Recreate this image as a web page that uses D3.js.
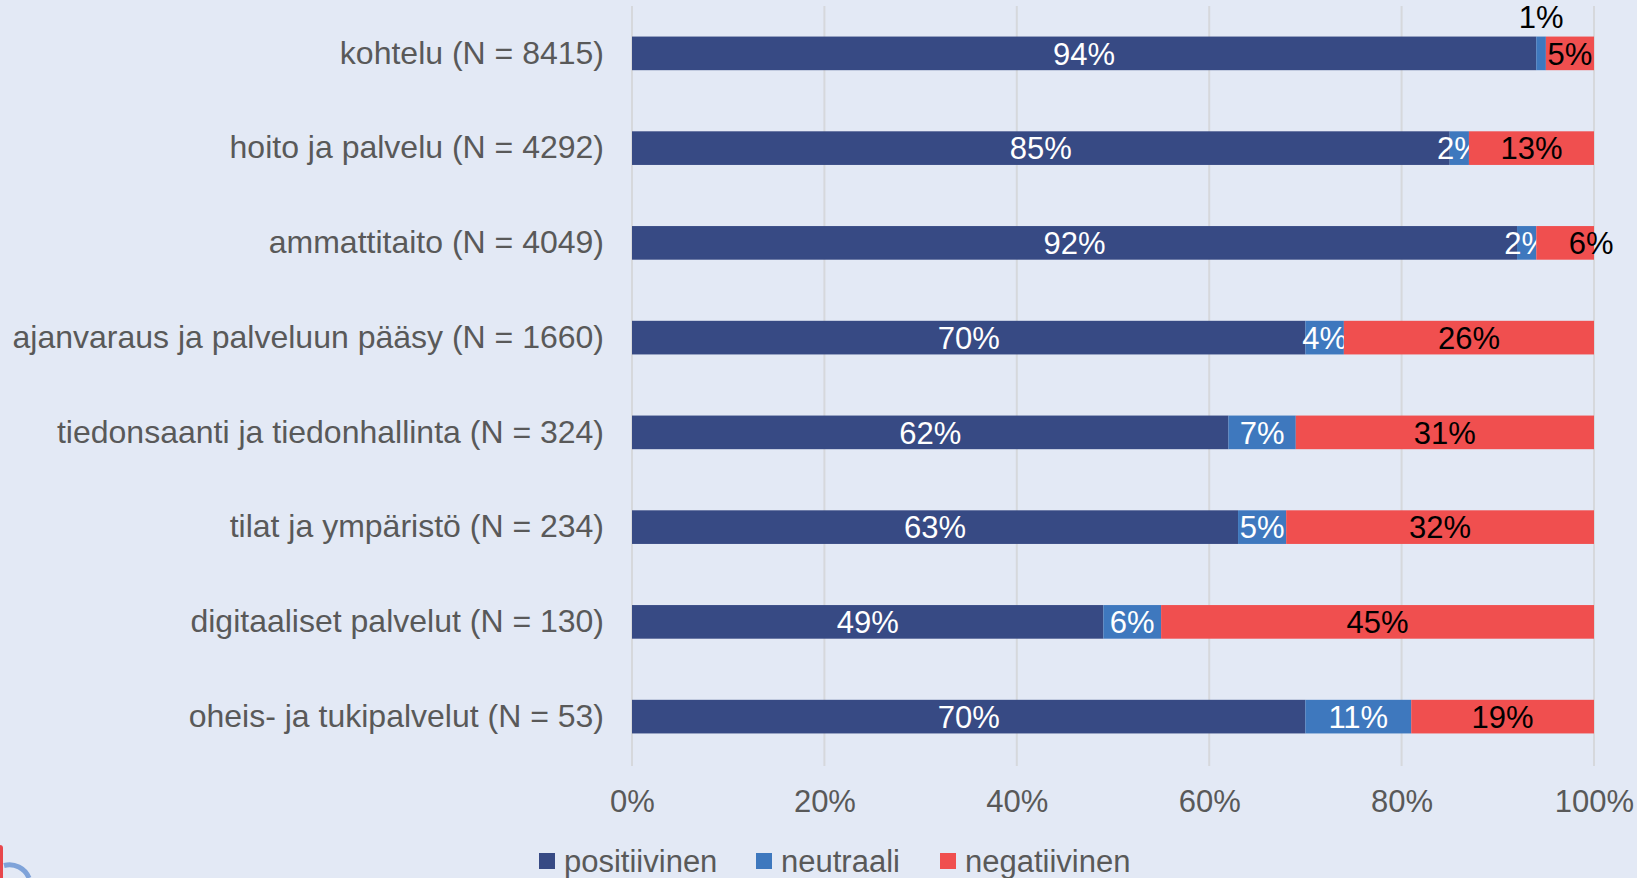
<!DOCTYPE html>
<html>
<head>
<meta charset="utf-8">
<script src="https://cdn.jsdelivr.net/npm/d3@7"></script>
<style>
  body { margin: 0; background: #e3e9f5; }
  text { font-family: "Liberation Sans", Arial, sans-serif; }
</style>
</head>
<body>
<script>
//chart values
var categories = [
    "kohtelu (N = 8415)",
    "hoito ja palvelu (N = 4292)",
    "ammattitaito (N = 4049)",
    "ajanvaraus ja palveluun pääsy (N = 1660)",
    "tiedonsaanti ja tiedonhallinta (N = 324)",
    "tilat ja ympäristö (N = 234)",
    "digitaaliset palvelut (N = 130)",
    "oheis- ja tukipalvelut (N = 53)"
];
var positive = [94, 85, 92, 70, 62, 63, 49, 70];
var neutral = [1, 2, 2, 4, 7, 5, 6, 11];
var negative = [5, 13, 6, 26, 31, 32, 45, 19];
var seriesKeys = ["positiivinen", "neutraali", "negatiivinen"];
var xTicks = [0, 20, 40, 60, 80, 100];

//SVG dimension variables
var w = 1637, h = 878;

//colors per series, label colors per series
var colors = { positiivinen: "#374a84", neutraali: "#3e78be", negatiivinen: "#f04f4f" };
var labelColors = { positiivinen: "#ffffff", neutraali: "#ffffff", negatiivinen: "#000000" };

//build table rows for the stack generator
var table = categories.map(function(c, i){
    return { cat: c, positiivinen: positive[i], neutraali: neutral[i], negatiivinen: negative[i] };
});

var container = d3.select("body")
    .append("svg")
    .attr("width", w)
    .attr("height", h);

container.append("rect")
    .attr("width", w)
    .attr("height", h)
    .style("fill", "#e3e9f5");

//scales
var x = d3.scaleLinear()
    .range([632, 1594])
    .domain([0, 100]);

var y = d3.scaleBand()
    .range([6, 764])
    .domain(categories)
    .paddingInner(0.645)
    .paddingOuter(0.3225);

//vertical gridlines
container.selectAll(".grid")
    .data(xTicks)
    .enter()
    .append("line")
    .attr("class", "grid")
    .attr("x1", function(d){ return x(d); })
    .attr("x2", function(d){ return x(d); })
    .attr("y1", 6)
    .attr("y2", 766)
    .style("stroke", "#d6d8dc")
    .style("stroke-width", 2);

//stacked series
var stack = d3.stack().keys(seriesKeys);
var series = stack(table);

var groups = container.selectAll(".series")
    .data(series)
    .enter()
    .append("g")
    .attr("class", "series")
    .style("fill", function(d){ return colors[d.key]; });

groups.selectAll("rect")
    .data(function(d){ return d; })
    .enter()
    .append("rect")
    .attr("x", function(d){ return x(d[0]); })
    .attr("y", function(d){ return y(d.data.cat); })
    .attr("width", function(d){ return x(d[1]) - x(d[0]); })
    .attr("height", y.bandwidth());

//data labels, centered in each segment
groups.each(function(s){
    d3.select(this).selectAll(".val")
        .data(s)
        .enter()
        .append("text")
        .attr("class", "val")
        .attr("text-anchor", "middle")
        .attr("x", function(d){
            var cx = (x(d[0]) + x(d[1])) / 2;
            //the 6% label of ammattitaito sits pushed to the right edge
            if (s.key == "negatiivinen" && d.data.cat.indexOf("ammattitaito") == 0) cx += 26;
            return cx;
        })
        .attr("y", function(d){
            var cy = y(d.data.cat) + y.bandwidth() / 2;
            //tiny neutral value of kohtelu is shown above the bar
            if (s.key == "neutraali" && d.data.cat.indexOf("kohtelu") == 0) cy = y(d.data.cat) - 20;
            return cy;
        })
        .attr("dy", "0.36em")
        .style("font-size", "31px")
        .style("fill", function(d){
            if (s.key == "neutraali" && d.data.cat.indexOf("kohtelu") == 0) return "#000";
            return labelColors[s.key];
        })
        .text(function(d){ return (d[1] - d[0]) + "%"; });
});

//category axis
var yAxis = d3.axisLeft(y).tickSize(0).tickPadding(28);
var yAx = container.append("g")
    .attr("transform", "translate(632, 0)")
    .call(yAxis);
yAx.select(".domain").remove();
yAx.selectAll("text")
    .style("font-size", "32px")
    .style("fill", "#595959")
    .style("font-family", "'Liberation Sans', Arial, sans-serif");

//percent axis
var xAxis = d3.axisBottom(x)
    .tickValues(xTicks)
    .tickSize(0)
    .tickPadding(24)
    .tickFormat(function(d){ return d + "%"; });
var xAx = container.append("g")
    .attr("transform", "translate(0, 766)")
    .call(xAxis);
xAx.select(".domain").remove();
xAx.selectAll("text")
    .style("font-size", "31px")
    .style("fill", "#595959")
    .style("font-family", "'Liberation Sans', Arial, sans-serif");

//legend
var legendX = [539, 756, 940];
var legend = container.selectAll(".legend")
    .data(seriesKeys)
    .enter()
    .append("g")
    .attr("class", "legend")
    .attr("transform", function(d, i){ return "translate(" + legendX[i] + ", 861)"; });

legend.append("rect")
    .attr("x", 0)
    .attr("y", -8)
    .attr("width", 16)
    .attr("height", 16)
    .style("fill", function(d){ return colors[d]; });

legend.append("text")
    .attr("x", 25)
    .attr("y", 0)
    .attr("dy", "0.36em")
    .style("font-size", "31px")
    .style("fill", "#595959")
    .text(function(d){ return d; });

//bits of a cut-off icon at the bottom-left corner
container.append("rect")
    .attr("x", -3)
    .attr("y", 845)
    .attr("width", 6)
    .attr("height", 40)
    .attr("rx", 3)
    .style("fill", "#e8474c");
container.append("path")
    .attr("d", "M4,865.5 A21,21 0 0 1 29,878")
    .style("fill", "none")
    .style("stroke", "#7fa3d9")
    .style("stroke-width", 5);
</script>
</body>
</html>
